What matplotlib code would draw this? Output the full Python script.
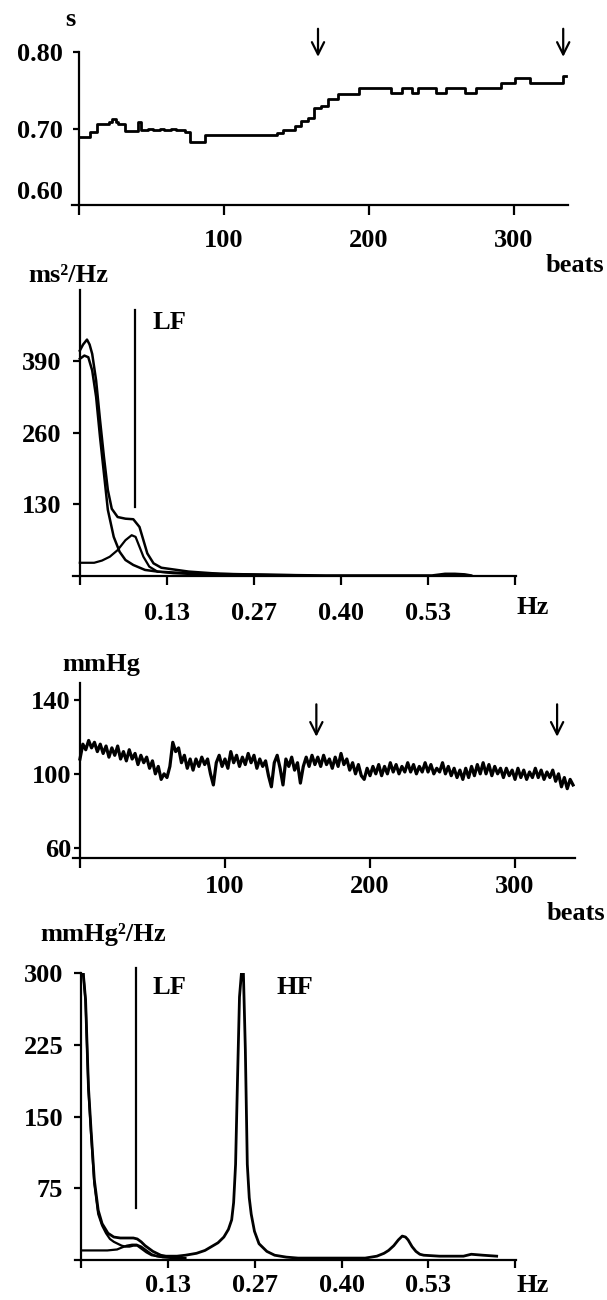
import numpy as np
import matplotlib
matplotlib.use("Agg")
import matplotlib.pyplot as plt

plt.rcParams['font.family'] = ['Liberation Serif', 'DejaVu Serif']
plt.rcParams['font.weight'] = 'bold'
plt.rcParams['font.size'] = 19

FS = 19

# ---------------- data ----------------
# Panel 1: RR interval (s) step series, breakpoints (beat, value)
rr_beat = [0, 8, 13, 21, 23, 26, 27, 32, 41, 43, 48, 51, 56, 59, 64, 67, 73, 77, 87,
           137, 141, 149, 153, 158, 162, 167, 172, 179, 193, 215, 223, 230, 234,
           246, 253, 266, 274, 291, 301, 311, 334, 336]
rr_val = [0.689, 0.695, 0.706, 0.709, 0.712, 0.709, 0.706, 0.697, 0.708, 0.698, 0.700, 0.698,
          0.700, 0.698, 0.700, 0.698, 0.695, 0.683, 0.691,
          0.694, 0.698, 0.703, 0.710, 0.714, 0.727, 0.730, 0.738, 0.745, 0.753, 0.746, 0.753,
          0.746, 0.753, 0.746, 0.753, 0.746, 0.753, 0.759, 0.766, 0.759, 0.769, 0.769]
rr_arrow_beats = [165, 334]
rr_yticks = [0.70, 0.80]
beat_ticks = [0, 100, 200, 300]
beat_ticklabels = ['', '100', '200', '300']

# Panel 2: RR spectrum (ms^2/Hz)
f2_total = [0, 0.005, 0.011, 0.015, 0.019, 0.025, 0.031, 0.037, 0.043, 0.049, 0.058, 0.070,
            0.082, 0.0915, 0.0975, 0.1035, 0.113, 0.125, 0.143, 0.167, 0.215, 0.3, 0.377,
            0.45, 0.54, 0.56, 0.575, 0.59, 0.6]
p2_total = [409, 420, 429, 420, 403, 355, 283, 216, 156, 122, 107, 104, 103, 89, 65, 41, 23,
            15, 12, 8, 4, 2, 1, 1, 1, 4, 4, 3, 1]
f2_vlf = [0, 0.007, 0.013, 0.019, 0.025, 0.031, 0.037, 0.043, 0.052, 0.061, 0.070, 0.082,
          0.1, 0.119, 0.15, 0.24, 0.35]
p2_vlf = [394, 400, 397, 373, 325, 252, 186, 120, 71, 44, 29, 20, 11, 8, 6, 3, 1]
f2_lf = [0, 0.022, 0.034, 0.046, 0.058, 0.070, 0.0795, 0.0855, 0.0915, 0.0975, 0.1065,
         0.119, 0.143, 0.18, 0.25]
p2_lf = [24, 24, 28, 35, 47, 65, 74, 71, 53, 35, 17, 8, 5, 3, 1]
p2_yticks = [130, 260, 390]
lf_limit_hz = 0.0845
hz_ticks = [0, 0.1333, 0.2667, 0.4, 0.5333, 0.6667]
hz_ticklabels = ['', '0.13', '0.27', '0.40', '0.53', '']

# Panel 3: systolic pressure (mmHg), every 2 beats
sap_beat = list(range(0, 341, 2))
sap_val = [108, 116, 113, 118, 114, 117, 112, 116, 111, 115, 109, 114, 110, 115, 108, 112,
           107, 113, 108, 111, 105, 110, 106, 109, 103, 107, 100, 104, 97, 100, 98, 104,
           117, 112, 114, 106, 110, 103, 108, 102, 108, 104, 109, 105, 108, 100, 94, 106,
           110, 104, 108, 103, 112, 106, 110, 104, 109, 105, 111, 106, 110, 103, 108, 104,
           107, 99, 93, 106, 110, 103, 94, 108, 104, 109, 102, 106, 95, 104, 109, 104,
           110, 105, 109, 104, 110, 105, 108, 103, 109, 104, 111, 105, 108, 102, 106, 100,
           105, 99, 97, 103, 99, 104, 100, 105, 99, 104, 100, 106, 101, 105, 100, 104,
           101, 106, 101, 105, 100, 104, 101, 106, 101, 105, 100, 103, 101, 106, 100, 104,
           99, 103, 98, 102, 97, 103, 98, 104, 99, 105, 100, 106, 100, 105, 99, 104,
           100, 103, 98, 103, 99, 102, 97, 103, 98, 102, 97, 101, 98, 103, 98, 102,
           97, 101, 98, 102, 96, 100, 93, 98, 92, 97, 94]
sap_arrow_beats = [163, 329]
sap_yticks = [60, 100, 140]

# Panel 4: SAP spectrum (mmHg^2/Hz)
f4_total = [0, 0.003, 0.0066, 0.011, 0.015, 0.02, 0.026, 0.032, 0.041, 0.05, 0.06, 0.07,
            0.08, 0.086, 0.092, 0.098, 0.104, 0.11, 0.116, 0.122, 0.13, 0.147, 0.16, 0.177,
            0.19, 0.2, 0.21, 0.219, 0.226, 0.231, 0.234, 0.237, 0.24, 0.243, 0.246, 0.249,
            0.252, 0.255, 0.258, 0.261, 0.266, 0.273, 0.285, 0.297, 0.315, 0.333, 0.38,
            0.436, 0.454, 0.465, 0.472, 0.48, 0.487, 0.493, 0.498, 0.502, 0.508, 0.514,
            0.52, 0.526, 0.55, 0.575, 0.587, 0.599, 0.617, 0.638]
p4_total = [300, 300, 272, 181, 136, 84, 52, 38, 28, 24, 23, 23, 23, 22, 19, 15, 12, 9, 7,
            5, 4, 4, 5, 7, 10, 14, 18, 24, 32, 42, 60, 100, 190, 275, 300, 300, 220, 100,
            65, 48, 30, 17, 9, 5, 3, 2, 2, 2, 4, 7, 10, 15, 21, 25, 24, 21, 14, 9, 6, 5,
            4, 4, 4, 6, 5, 4]
f4_vlf = [0, 0.003, 0.0066, 0.011, 0.015, 0.02, 0.026, 0.032, 0.038, 0.044, 0.05, 0.056,
          0.062, 0.068, 0.074, 0.08, 0.086, 0.092, 0.1, 0.108, 0.116, 0.125, 0.14]
p4_vlf = [300, 300, 270, 178, 132, 80, 48, 36, 28, 22, 19, 17, 15, 14, 14, 15, 15, 12, 8,
          5, 4, 3, 3]
f4_lf = [0, 0.02, 0.04, 0.055, 0.062, 0.07, 0.078, 0.085, 0.092, 0.1, 0.108, 0.116, 0.125,
         0.14, 0.16]
p4_lf = [10, 10, 10, 11, 13, 15, 16, 16, 14, 10, 6, 4, 3, 2, 2]
p4_yticks = [75, 150, 225, 300]

# ---------------- figure ----------------
W, H = 607, 1300
fig = plt.figure(figsize=(W / 100, H / 100), dpi=100)


def add_axes(left, right, top, bottom):
    return fig.add_axes([left / W, 1 - bottom / H, (right - left) / W, (bottom - top) / H])


def style(ax, xpad, ypad, xlen=7, ylen=4.5):
    for s in ['top', 'right']:
        ax.spines[s].set_visible(False)
    ax.spines['left'].set_position(('data', 0))
    for s in ['left', 'bottom']:
        ax.spines[s].set_linewidth(1.6)
    ax.tick_params(axis='x', direction='out', length=xlen, width=1.6, pad=xpad, labelsize=FS)
    ax.tick_params(axis='y', direction='out', length=ylen, width=1.6, pad=ypad, labelsize=FS)


def ftext(x, y, s, ha='center', **kw):
    fig.text(x / W, 1 - y / H, s, ha=ha, va='center', fontsize=FS,
             fontweight='bold', **kw)


# Panel 1
ax1 = add_axes(72, 568, 52, 205)
ax1.plot(rr_beat, rr_val, color='black', lw=2.0, drawstyle='steps-post')
ax1.set_xlim(-4.55, 337.3)
ax1.set_ylim(0.60, 0.80)
ax1.set_xticks(beat_ticks)
ax1.set_xticklabels(beat_ticklabels)
ax1.set_yticks(rr_yticks)
ax1.set_yticklabels(['0.70', '0.80'])
style(ax1, xpad=10, ypad=7)
ax1.annotate('0.60', xy=(0, 0.60), xycoords=('data', 'data'), xytext=(-11.5, 9),
             textcoords='offset points', ha='right', va='center', fontsize=FS,
             fontweight='bold', annotation_clip=False)
for b in rr_arrow_beats:
    ax1.annotate('', xy=(b, 0.790), xytext=(b, 0.834),
                 arrowprops=dict(arrowstyle='->', lw=1.6, color='black', mutation_scale=22),
                 annotation_clip=False)
ftext(70, 19, 's')
ftext(604, 265, 'beats', ha='right')

# Panel 2
ax2 = add_axes(72.7, 515.5, 290, 576)
ax2.plot(f2_total, p2_total, color='black', lw=1.8)
ax2.plot(f2_vlf, p2_vlf, color='black', lw=1.8)
ax2.plot(f2_lf, p2_lf, color='black', lw=1.6)
ax2.plot([lf_limit_hz, lf_limit_hz], [126, 482], color='black', lw=1.6, clip_on=False)
ax2.text(0.138, 460, 'LF', ha='center', va='center', fontsize=FS, fontweight='bold')
ax2.set_xlim(-0.0109, 0.668)
ax2.set_ylim(0, 519)
ax2.set_xticks(hz_ticks)
ax2.set_xticklabels(hz_ticklabels)
ax2.set_yticks(p2_yticks)
style(ax2, xpad=12, ypad=8.5, xlen=6.5, ylen=5)
ftext(68, 276, 'ms²/Hz')
ftext(533, 608, 'Hz')

# Panel 3
ax3 = add_axes(72.7, 574.5, 683, 858)
ax3.plot(sap_beat, sap_val, color='black', lw=2.3)
ax3.set_xlim(-5.0, 341)
ax3.set_ylim(54.6, 149)
ax3.set_xticks(beat_ticks)
ax3.set_xticklabels(beat_ticklabels)
ax3.set_yticks(sap_yticks)
style(ax3, xpad=5, ypad=2, xlen=7, ylen=4.5)
for b in sap_arrow_beats:
    ax3.annotate('', xy=(b, 118.5), xytext=(b, 139),
                 arrowprops=dict(arrowstyle='->', lw=1.6, color='black', mutation_scale=22),
                 annotation_clip=False)
ftext(101, 665, 'mmHg')
ftext(605, 913, 'beats', ha='right')

# Panel 4
ax4 = add_axes(74.7, 516, 973, 1260)
ax4.plot(f4_total, p4_total, color='black', lw=2.0)
ax4.plot(f4_vlf, p4_vlf, color='black', lw=1.6)
ax4.plot(f4_lf, p4_lf, color='black', lw=1.6)
ax4.plot([lf_limit_hz, lf_limit_hz], [54, 305], color='black', lw=1.6, clip_on=False)
ax4.text(0.136, 285, 'LF', ha='center', va='center', fontsize=FS, fontweight='bold')
ax4.text(0.328, 285, 'HF', ha='center', va='center', fontsize=FS, fontweight='bold')
ax4.set_xlim(-0.0101, 0.6677)
ax4.set_ylim(0, 300)
ax4.set_xticks(hz_ticks)
ax4.set_xticklabels(hz_ticklabels)
ax4.set_yticks(p4_yticks)
style(ax4, xpad=4, ypad=8, xlen=6, ylen=5)
ftext(103, 935, 'mmHg²/Hz')
ftext(533, 1285, 'Hz')

fig.savefig('out.png', dpi=100, facecolor='white')
